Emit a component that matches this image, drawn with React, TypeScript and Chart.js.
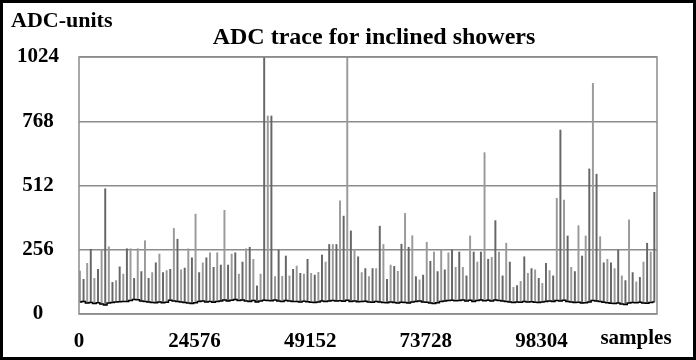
import React, { useEffect, useRef } from 'react';
import { Chart, registerables } from 'chart.js';

Chart.register(...registerables);

// ---- data ----
const X_MAX = 122880;
const X_TICK_STEP = 24576;
const Y_TICKS = [0, 256, 512, 768, 1024];
const SPIKE_START = 200;      // sample of first spike
const SPIKE_SPACING = 768;    // samples between spikes

// peak ADC value of each spike
const spikePeaks = [
  171, 138, 202, 258, 142, 178, 258, 499, 268, 126,
  133, 188, 159, 260, 260, 142, 260, 169, 292, 142,
  165, 204, 239, 165, 173, 178, 341, 298, 176, 183,
  260, 224, 398, 165, 204, 224, 244, 186, 244, 195,
  413, 195, 239, 244, 159, 207, 260, 266, 218, 112,
  159, 1024, 789, 789, 149, 255, 150, 231, 152, 178,
  191, 162, 159, 218, 162, 155, 166, 235, 207, 277,
  277, 277, 451, 390, 1024, 331, 258, 228, 165, 181,
  149, 181, 181, 350, 277, 138, 195, 190, 170, 278,
  401, 266, 312, 149, 136, 155, 286, 210, 247, 169,
  255, 176, 244, 255, 186, 247, 186, 152, 311, 247,
  207, 247, 643, 218, 226, 372, 247, 152, 282, 207,
  106, 113, 130, 228, 162, 181, 176, 142, 122, 202,
  173, 152, 461, 733, 454, 311, 186, 169, 352, 231,
  311, 578, 919, 557, 308, 204, 218, 204, 181, 255,
  152, 133, 375, 165, 128, 146, 207, 282, 247, 485,
];

// baseline (pedestal) level under each spike
const baseline = [
  48, 50, 44, 46, 42, 45, 40, 36, 44, 46,
  48, 49, 50, 50, 54, 58, 57, 52, 50, 48,
  46, 45, 48, 45, 47, 55, 52, 50, 48, 46,
  44, 42, 45, 50, 52, 48, 50, 47, 50, 52,
  56, 52, 55, 58, 54, 56, 52, 50, 54, 48,
  52, 55, 54, 53, 56, 52, 50, 54, 52, 50,
  50, 48, 51, 49, 47, 46, 48, 52, 50, 52,
  54, 52, 53, 51, 55, 50, 52, 49, 50, 51,
  48, 47, 50, 48, 46, 45, 48, 46, 44, 47,
  46, 44, 48, 50, 52, 48, 47, 44, 42, 45,
  50, 52, 54, 55, 53, 54, 56, 52, 55, 50,
  54, 56, 53, 55, 52, 56, 54, 52, 50, 48,
  46, 48, 47, 50, 48, 49, 47, 46, 48, 50,
  52, 50, 54, 52, 55, 50, 48, 46, 47, 44,
  45, 48, 54, 52, 50, 47, 45, 43, 42, 44,
  40, 38, 44, 46, 45, 47, 44, 43, 46, 48,
];

const spikeX = spikePeaks.map((_, i) => SPIKE_START + i * SPIKE_SPACING);

const TITLE = 'ADC trace for inclined showers';
const Y_LABEL = 'ADC-units';
const X_LABEL = 'samples';

const FONT = "'Liberation Serif', 'Times New Roman', serif";

const decor = {
  id: 'decor',
  beforeDraw(chart: any) {
    const { ctx, width, height } = chart;
    ctx.save();
    ctx.fillStyle = '#ffffff';
    ctx.fillRect(0, 0, width, height);
    ctx.restore();
  },
  afterDatasetsDraw(chart: any) {
    const { ctx, chartArea } = chart;
    ctx.save();
    ctx.strokeStyle = '#8c8c8c';
    ctx.lineWidth = 1.5;
    ctx.strokeRect(chartArea.left, chartArea.top, chartArea.right - chartArea.left, chartArea.bottom - chartArea.top);
    ctx.restore();
  },
  afterDraw(chart: any) {
    const { ctx, width, height, chartArea } = chart;
    ctx.save();
    ctx.fillStyle = '#000';
    ctx.textBaseline = 'middle';
    ctx.font = `bold 22px ${FONT}`;
    ctx.textAlign = 'left';
    ctx.fillText(Y_LABEL, 11, 21);
    ctx.font = `bold 24px ${FONT}`;
    ctx.textAlign = 'center';
    ctx.fillText(TITLE, 374, 38);
    ctx.font = `bold 21px ${FONT}`;
    ctx.textAlign = 'center';
    ctx.fillText(X_LABEL, 636, chartArea.bottom + 25);
    ctx.strokeStyle = '#000';
    ctx.lineWidth = 3;
    ctx.strokeRect(1.5, 1.5, width - 3, height - 3);
    ctx.restore();
  },
};

export default function App() {
  const ref = useRef<HTMLCanvasElement>(null);

  useEffect(() => {
    if (!ref.current) return;
    const chart = new Chart(ref.current, {
      type: 'bar',
      data: {
        datasets: [
          {
            type: 'line',
            data: spikeX.map((x, i) => ({ x, y: baseline[i] })),
            borderColor: '#000000',
            borderWidth: 1.5,
            pointRadius: 0,
            stepped: 'middle',
            order: 0,
          } as any,
          {
            type: 'bar',
            data: spikeX.map((x, i) => ({ x, y: [baseline[i], spikePeaks[i]] })),
            backgroundColor: spikeX.map((_, i) => (i % 2 ? '#666666' : '#9a9a9a')),
            borderWidth: 0,
            barThickness: 1.3,
            order: 1,
          } as any,
        ],
      },
      options: {
        animation: false,
        responsive: false,
        maintainAspectRatio: false,
        layout: { padding: { left: 0, right: 39, top: 57, bottom: 0 } },
        plugins: {
          legend: { display: false },
          tooltip: { enabled: false },
          title: { display: false },
        },
        scales: {
          x: {
            type: 'linear',
            min: 0,
            max: X_MAX,
            offset: false,
            grid: { display: false, drawTicks: false },
            border: { display: false },
            ticks: {
              stepSize: X_TICK_STEP,
              autoSkip: false,
              maxRotation: 0,
              padding: 15,
              color: '#000',
              font: { family: FONT, weight: 'bold', size: 21 },
              callback: (v: any) => (Number(v) === X_MAX ? '' : String(v)),
            },
            afterFit: (s: any) => { s.height = 46; },
          },
          y: {
            min: 0,
            max: 1024,
            afterBuildTicks: (s: any) => { s.ticks = Y_TICKS.map((v) => ({ value: v })); },
            grid: { color: '#8c8c8c', lineWidth: 1.5, drawTicks: false },
            border: { display: false },
            ticks: {
              crossAlign: 'center',
              padding: 20,
              color: '#000',
              font: { family: FONT, weight: 'bold', size: 21 },
              callback: (v: any) => String(v),
            },
            afterFit: (s: any) => { s.width = 79; },
          },
        },
      } as any,
      plugins: [decor],
    });
    return () => chart.destroy();
  }, []);

  return (
    <div style={{ position: 'fixed', left: 0, top: 0, width: 696, height: 360 }}>
      <canvas ref={ref} width={696} height={360} style={{ width: 696, height: 360, display: 'block' }} />
    </div>
  );
}
